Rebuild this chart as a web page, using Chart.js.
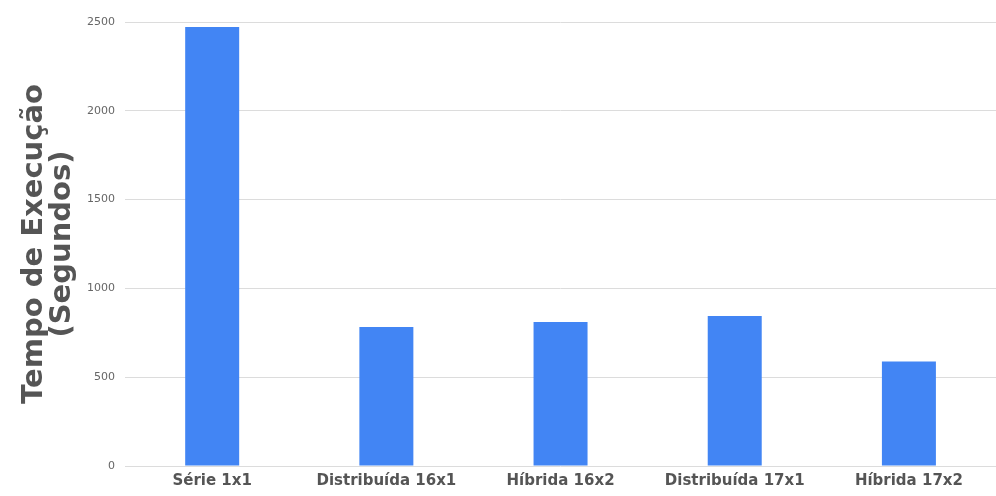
<!DOCTYPE html>
<html>
<head>
<meta charset="utf-8">
<script src="https://cdn.jsdelivr.net/npm/chart.js@4/dist/chart.umd.min.js"></script>
<style>
  html, body { margin: 0; padding: 0; background: #fff; }
  #wrap { width: 996px; height: 496px; }
</style>
</head>
<body>
<div id="wrap"><canvas id="barChart"></canvas></div>
<script>
const categories = ['Série 1x1', 'Distribuída 16x1', 'Híbrida 16x2', 'Distribuída 17x1', 'Híbrida 17x2'];
const tempos = [2472, 783, 811, 845, 588];
const yTicks = [0, 500, 1000, 1500, 2000, 2500];

Chart.defaults.font.family = "'DejaVu Sans', sans-serif";

const ctx = document.getElementById('barChart').getContext('2d');
new Chart(ctx, {
    type: 'bar',
    data: {
        labels: categories,
        datasets: [{
            label: 'Tempo',
            data: tempos,
            backgroundColor: '#4285f4',
            categoryPercentage: 1,
            barPercentage: 0.31
        }]
    },
    options: {
        responsive: true,
        maintainAspectRatio: false,
        animation: false,
        layout: { padding: { top: 22, right: 0, bottom: 0, left: 21 } },
        plugins: { legend: { display: false }, tooltip: { enabled: false } },
        scales: {
            x: {
                grid: { display: false, drawTicks: false },
                border: { display: false },
                ticks: { color: '#555', font: { size: 15, weight: 'bold' }, padding: 6, maxRotation: 0 }
            },
            y: {
                min: 0,
                max: 2500,
                afterBuildTicks: axis => { axis.ticks = yTicks.map(v => ({ value: v })); },
                grid: { color: '#dcdcdc', drawTicks: false },
                border: { display: false },
                ticks: { color: '#666', font: { size: 11 }, padding: 10, callback: v => String(v) },
                title: {
                    display: true,
                    text: ['Tempo de Execução', '(Segundos)'],
                    color: '#555',
                    font: { size: 29, weight: 'bold', lineHeight: 0.95 },
                    padding: { top: 0, bottom: 1 }
                }
            }
        }
    }
});
</script>
</body>
</html>
